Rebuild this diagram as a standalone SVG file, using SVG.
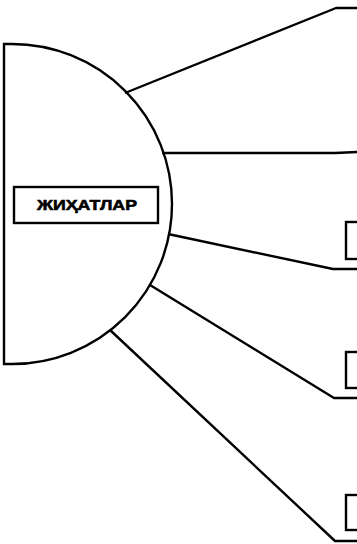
<svg xmlns="http://www.w3.org/2000/svg" width="357" height="544" viewBox="0 0 357 544">
<style>
.s{fill:none;stroke:#000;stroke-width:2.4;stroke-linejoin:round}
.b{fill:#fff;stroke:#000;stroke-width:2.4}
.t{font-family:"Liberation Sans",Arial,sans-serif;font-weight:bold;font-size:15px;fill:#000;stroke:#000;stroke-width:0.6}
</style>
<rect width="357" height="544" fill="#fff"/>
<g id="half-disc">
<path class="b" d="M4,44 H12 A160,160 0 0 1 12,364 H4 Z"/>
</g>
<g id="label">
<rect class="b" x="14" y="187" width="144" height="36"/>
<text class="t" x="87" y="210" text-anchor="middle" textLength="100" lengthAdjust="spacingAndGlyphs">ЖИҲАТЛАР</text>
</g>
<g id="box3"><rect class="b" x="346" y="222" width="20" height="37"/></g>
<g id="box4"><rect class="b" x="346" y="352" width="20" height="36"/></g>
<g id="box5"><rect class="b" x="346" y="495" width="20" height="35"/></g>
<g id="connectors">
<polyline class="s" points="125,93 336,8 358,8"/>
<polyline class="s" points="162,153 335,153 358,152"/>
<polyline class="s" points="168,234 333,269 358,269"/>
<polyline class="s" points="150,285 334,398 358,398"/>
<polyline class="s" points="110,330 335,541 358,541"/>
</g>
</svg>
